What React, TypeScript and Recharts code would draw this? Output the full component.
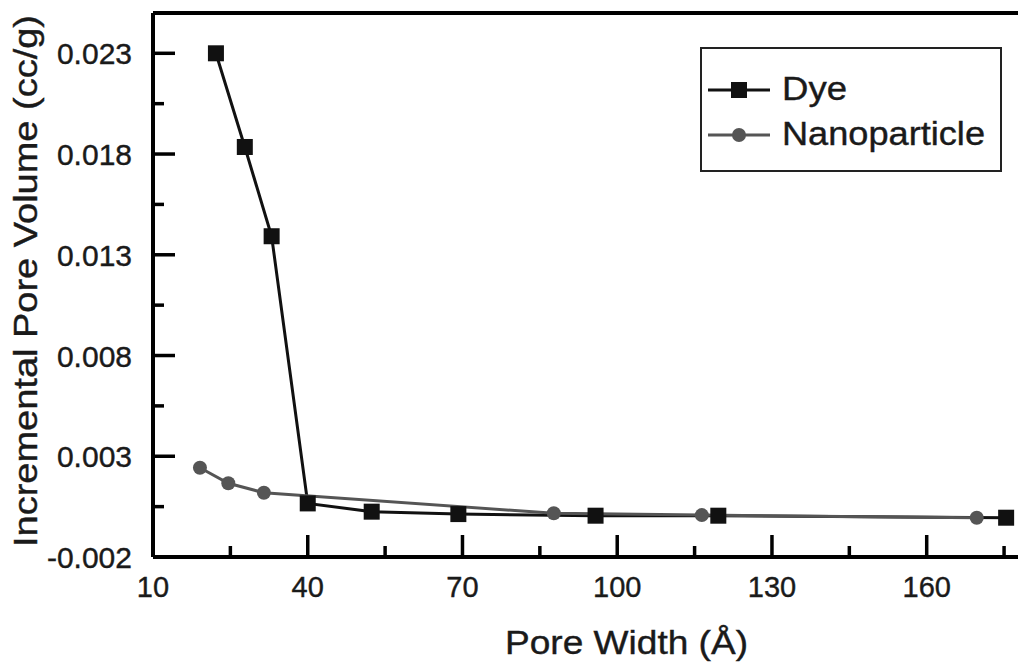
import { LineChart, Line, XAxis, YAxis, ReferenceLine, Legend } from "recharts"

// pore width (Å) / incremental pore volume (cc/g)
const dyeWidth = [22.2, 27.8, 33.0, 40.0, 52.4, 69.2, 95.8, 119.6, 175.4]
const dyeVolume = [0.023, 0.01835, 0.01392, 0.00066, 0.00025, 0.00013, 0.00005, 0.00005, -0.00005]

const nanoWidth = [19.1, 24.6, 31.5, 87.7, 116.4, 169.7]
const nanoVolume = [0.00243, 0.00166, 0.00119, 0.00017, 0.00008, -0.00005]

const xMajorTicks = [10, 40, 70, 100, 130, 160]
const xMinorTicks = [25, 55, 85, 115, 145, 175]
const yMajorTicks = [-0.002, 0.003, 0.008, 0.013, 0.018, 0.023]
const yMinorTicks = [0.0005, 0.0055, 0.0105, 0.0155, 0.0205]

const xDomain = [10, 177.7]
const yDomain = [-0.002, 0.025]

const dyeData = dyeWidth.map((w, i) => ({ width: w, volume: dyeVolume[i] }))
const nanoData = nanoWidth.map((w, i) => ({ width: w, volume: nanoVolume[i] }))

const FONT = "'Liberation Sans', Arial, Helvetica, sans-serif"
const TEXT = "#1a1a1a"
const DYE = "#111111"
const NANO = "#555555"

// plot box edges in px (margin top 13, y-axis width 153, x-axis height 105)
const PLOT_LEFT = 153
const PLOT_BOTTOM = 557

const isMajor = (list: number[], v: number) => list.some((m) => Math.abs(m - v) < 1e-9)

const XTick = (props: any) => {
    const { x, payload } = props
    const major = isMajor(xMajorTicks, payload.value)
    return (
        <g>
            <line x1={x} x2={x} y1={PLOT_BOTTOM} y2={PLOT_BOTTOM - (major ? 22 : 11)} stroke="#000" strokeWidth={3.5} />
            {major && (
                <text x={x} y={PLOT_BOTTOM + 40} textAnchor="middle" fontSize={29} fontFamily={FONT} fill={TEXT} stroke={TEXT} strokeWidth={0.4}>
                    {payload.value}
                </text>
            )}
        </g>
    )
}

const YTick = (props: any) => {
    const { y, payload } = props
    const major = isMajor(yMajorTicks, payload.value)
    return (
        <g>
            <line x1={PLOT_LEFT} x2={PLOT_LEFT + (major ? 22 : 11)} y1={y} y2={y} stroke="#000" strokeWidth={3.5} />
            {major && (
                <text x={PLOT_LEFT - 21} y={y + 11} textAnchor="end" fontSize={30} fontFamily={FONT} fill={TEXT} stroke={TEXT} strokeWidth={0.4}>
                    {payload.value.toFixed(3)}
                </text>
            )}
        </g>
    )
}

const SquareDot = (props: any) => {
    const { cx, cy, index } = props
    return <rect key={"d" + index} x={cx - 8} y={cy - 8} width={16} height={16} fill={DYE} />
}

const RoundDot = (props: any) => {
    const { cx, cy, index } = props
    return <circle key={"n" + index} cx={cx} cy={cy} r={7} fill={NANO} />
}

const renderLegend = () => (
    <svg width={302} height={125} style={{ display: "block" }}>
        <rect x={1} y={1} width={300} height={123} fill="#fff" stroke="#222" strokeWidth={2} />
        <line x1={8} x2={70} y1={43} y2={43} stroke={DYE} strokeWidth={3} />
        <rect x={31} y={35} width={16} height={16} fill={DYE} />
        <text x={82} y={52.5} fontSize={33} fontFamily={FONT} fill={TEXT} stroke={TEXT} strokeWidth={0.4} textLength={65} lengthAdjust="spacingAndGlyphs">
            Dye
        </text>
        <line x1={8} x2={70} y1={88} y2={88} stroke={NANO} strokeWidth={3} />
        <circle cx={39} cy={88} r={7} fill={NANO} />
        <text x={82} y={98} fontSize={33} fontFamily={FONT} fill={TEXT} stroke={TEXT} strokeWidth={0.4} textLength={203} lengthAdjust="spacingAndGlyphs">
            Nanoparticle
        </text>
    </svg>
)

export default function App() {
    return (
        <div style={{ position: "absolute", left: 0, top: 0, width: 1018, height: 662, background: "#fff", overflow: "hidden" }}>
            <LineChart width={1018} height={662} margin={{ top: 13, right: 0, bottom: 0, left: 0 }}>
                <XAxis
                    dataKey="width"
                    type="number"
                    domain={xDomain}
                    allowDataOverflow
                    ticks={[...xMajorTicks, ...xMinorTicks]}
                    tick={<XTick />}
                    tickLine={false}
                    axisLine={false}
                    height={105}
                    interval={0}
                />
                <YAxis
                    dataKey="volume"
                    type="number"
                    domain={yDomain}
                    allowDataOverflow
                    ticks={[...yMajorTicks, ...yMinorTicks]}
                    tick={<YTick />}
                    tickLine={false}
                    axisLine={false}
                    width={153}
                    interval={0}
                />
                <ReferenceLine y={yDomain[1]} stroke="#000" strokeWidth={4} />
                <ReferenceLine y={yDomain[0]} stroke="#000" strokeWidth={4} />
                <ReferenceLine x={xDomain[0]} stroke="#000" strokeWidth={4} />
                <Legend
                    layout="vertical"
                    align="center"
                    verticalAlign="middle"
                    content={renderLegend}
                    wrapperStyle={{ position: "absolute", left: 700, top: 47, width: 302, height: 125 }}
                />
                <Line
                    data={dyeData}
                    dataKey="volume"
                    name="Dye"
                    type="linear"
                    stroke={DYE}
                    strokeWidth={3}
                    dot={<SquareDot />}
                    activeDot={false}
                    isAnimationActive={false}
                />
                <Line
                    data={nanoData}
                    dataKey="volume"
                    name="Nanoparticle"
                    type="linear"
                    stroke={NANO}
                    strokeWidth={3}
                    dot={<RoundDot />}
                    activeDot={false}
                    isAnimationActive={false}
                />
                <text
                    transform="translate(37,281) rotate(-90)"
                    textAnchor="middle"
                    fontSize={33}
                    fontFamily={FONT}
                    fill={TEXT}
                    stroke={TEXT}
                    strokeWidth={0.4}
                    textLength={532}
                    lengthAdjust="spacingAndGlyphs"
                >
                    Incremental Pore Volume (cc/g)
                </text>
                <text
                    x={626.5}
                    y={654}
                    textAnchor="middle"
                    fontSize={34}
                    fontFamily={FONT}
                    fill={TEXT}
                    stroke={TEXT}
                    strokeWidth={0.4}
                    textLength={243}
                    lengthAdjust="spacingAndGlyphs"
                >
                    Pore Width (Å)
                </text>
            </LineChart>
        </div>
    )
}
